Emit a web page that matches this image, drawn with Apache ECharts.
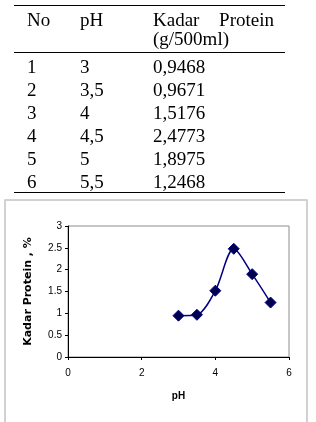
<!DOCTYPE html>
<html>
<head>
<meta charset="utf-8">
<script src="https://cdn.jsdelivr.net/npm/echarts@6/dist/echarts.min.js"></script>
<style>
html,body{margin:0;padding:0;background:#fff;}
#wrap{position:relative;width:316px;height:422px;overflow:hidden;}
#chart{position:absolute;left:0;top:0;width:316px;height:422px;}
.t{position:absolute;font-family:"Liberation Serif","Times New Roman",serif;font-size:19px;color:#000;line-height:19px;white-space:nowrap;}
.hl{position:absolute;left:14px;width:271px;height:0;border-top:1.3px solid #000;}
</style>
</head>
<body>
<div id="wrap">
<div id="chart"></div>
<div id="table"></div>
</div>
<script>
// Data
var rowNo = ['1','2','3','4','5','6'];
var phLabels = ['3','3,5','4','4,5','5','5,5'];
var proteinLabels = ['0,9468','0,9671','1,5176','2,4773','1,8975','1,2468'];
var phValues = [3, 3.5, 4, 4.5, 5, 5.5];
var proteinValues = [0.9468, 0.9671, 1.5176, 2.4773, 1.8975, 1.2468];
var headers = ['No', 'pH', 'Kadar', 'Protein', '(g/500ml)'];
var xTicks = [0, 2, 4, 6];
var yTicks = [0, 0.5, 1, 1.5, 2, 2.5, 3];

// Table (HTML text)
var tb = document.getElementById('table');
var html = '';
html += '<div class="hl" style="top:5px"></div>';
html += '<div class="t" style="left:27px;top:10px">' + headers[0] + '</div>';
html += '<div class="t" style="left:80px;top:10px">' + headers[1] + '</div>';
html += '<div class="t" style="left:153px;top:10px">' + headers[2] + '</div>';
html += '<div class="t" style="right:42px;top:10px">' + headers[3] + '</div>';
html += '<div class="t" style="left:153px;top:29px">' + headers[4] + '</div>';
html += '<div class="hl" style="top:52px"></div>';
for (var i = 0; i < rowNo.length; i++) {
  var ty = 57 + i * 23;
  html += '<div class="t" style="left:27px;top:' + ty + 'px">' + rowNo[i] + '</div>';
  html += '<div class="t" style="left:80px;top:' + ty + 'px">' + phLabels[i] + '</div>';
  html += '<div class="t" style="left:153px;top:' + ty + 'px">' + proteinLabels[i] + '</div>';
}
html += '<div class="hl" style="top:192px"></div>';
tb.innerHTML = html;

// Chart
var chart = echarts.init(document.getElementById('chart'), null, {renderer: 'canvas'});
var pts = phValues.map(function (x, i) { return [x, proteinValues[i]]; });
chart.setOption({
  animation: false,
  backgroundColor: 'transparent',
  graphic: [{
    type: 'rect',
    shape: {x: 5, y: 200, width: 302, height: 240},
    style: {fill: '#fff', stroke: '#c4c4c4', lineWidth: 1.5},
    z: -10
  }],
  grid: {
    left: 68, top: 226, width: 221, height: 131,
    show: true, borderColor: '#8c8c8c', borderWidth: 1, backgroundColor: '#fff'
  },
  xAxis: {
    type: 'value', min: xTicks[0], max: xTicks[xTicks.length - 1], interval: 2,
    name: 'pH', nameLocation: 'middle', nameGap: 34,
    nameTextStyle: {fontFamily: 'Liberation Sans', fontWeight: 'bold', fontSize: 10, color: '#000'},
    axisLine: {show: true, lineStyle: {color: '#000', width: 1}},
    axisTick: {show: true, length: 3, lineStyle: {color: '#000'}},
    axisLabel: {fontFamily: 'Liberation Sans', fontSize: 10, color: '#000', margin: 11},
    splitLine: {show: false}
  },
  yAxis: {
    type: 'value', min: yTicks[0], max: yTicks[yTicks.length - 1], interval: 0.5,
    name: 'Kadar Protein , %', nameLocation: 'middle', nameGap: 34, nameRotate: 90,
    nameTextStyle: {fontFamily: 'DejaVu Sans', fontWeight: 'bold', fontSize: 11, color: '#000'},
    axisLine: {show: true, lineStyle: {color: '#000', width: 1}},
    axisTick: {show: true, length: 3, lineStyle: {color: '#000'}},
    axisLabel: {fontFamily: 'Liberation Sans', fontSize: 10, color: '#000', margin: 6},
    splitLine: {show: false}
  },
  series: [{
    type: 'line',
    data: pts,
    smooth: 0.3,
    symbol: 'diamond',
    symbolSize: 11,
    lineStyle: {color: '#000080', width: 1.5},
    itemStyle: {color: '#000050', borderColor: '#000080', borderWidth: 1}
  }]
});
</script>
</body>
</html>
